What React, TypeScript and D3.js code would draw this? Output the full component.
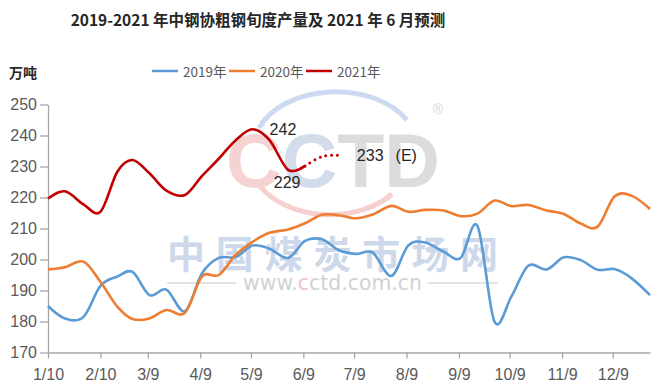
import { useEffect, useRef } from 'react'
import * as d3 from 'd3'

// dekad end dates, laid on one (leap) year so all three years share the x axis
const dekadDates = [
    '2020-01-10', '2020-01-20', '2020-01-31', '2020-02-10', '2020-02-20', '2020-02-29',
    '2020-03-10', '2020-03-20', '2020-03-31', '2020-04-10', '2020-04-20', '2020-04-30',
    '2020-05-10', '2020-05-20', '2020-05-31', '2020-06-10', '2020-06-20', '2020-06-30',
    '2020-07-10', '2020-07-20', '2020-07-31', '2020-08-10', '2020-08-20', '2020-08-31',
    '2020-09-10', '2020-09-20', '2020-09-30', '2020-10-10', '2020-10-20', '2020-10-31',
    '2020-11-10', '2020-11-20', '2020-11-30', '2020-12-10', '2020-12-20', '2020-12-31'
];

const values2019 = [185, 181, 181.5, 191.5, 194.5, 196, 188.5, 190.3, 183.3, 195.5, 200.5, 200.8,
    204.5, 203.5, 200.5, 206, 206.5, 203, 201.8, 202.2, 194.7, 204.5, 205.5, 202.5,
    200.5, 210.8, 180, 188, 198, 196.8, 200.7, 199.8, 196.7, 196.9, 194, 188.5];

const values2020 = [196.8, 197.5, 199.3, 192.8, 184.8, 180.8, 181, 183.7, 182.8, 194.5, 195, 201.5,
    205.7, 208.6, 209.7, 211.7, 214.4, 214.3, 213.3, 214.5, 217.3, 215.4, 216, 215.8,
    214, 214.8, 219, 217.2, 217.6, 215.8, 214.7, 211.6, 210.6, 220.3, 220.6, 216.3];

const values2021 = [219.7, 222, 217.8, 215.4, 228.3, 232.1, 227.8, 222.2, 220.8, 226.9, 232.5, 238.5,
    242, 238.5, 228.9, 230.2];

const forecastDates = ['2020-06-10', '2020-06-20', '2020-06-30'];
const forecast2021 = [230.2, 233.2, 233.6];

const tickDates = ['2020-01-10', '2020-02-10', '2020-03-09', '2020-04-09', '2020-05-09', '2020-06-09',
    '2020-07-09', '2020-08-09', '2020-09-09', '2020-10-09', '2020-11-09', '2020-12-09'];
const tickLabels = ['1/10', '2/10', '3/9', '4/9', '5/9', '6/9', '7/9', '8/9', '9/9', '10/9', '11/9', '12/9'];
const yTicks = [170, 180, 190, 200, 210, 220, 230, 240, 250];

const seriesNames = ['2019年', '2020年', '2021年'];
const seriesColors = ['#5B9BD5', '#ED7D31', '#C00000'];

function App() {
    const d3Container = useRef(null);

    const width = 663;
    const height = 388;

    useEffect(() => {
        const parse = d3.timeParse('%Y-%m-%d');

        const marginLeft = 48;
        const plotRight = 650;
        const plotTop = 104.5;
        const plotBottom = 352.5;

        const svg = d3.select(d3Container.current);
        svg.selectAll('*').remove();

        const x = d3.scaleTime()
                    .domain([parse('2020-01-10'), parse('2020-12-31')])
                    .range([marginLeft, plotRight]);

        const y = d3.scaleLinear()
                    .domain([170, 250])
                    .range([plotBottom, plotTop]);

        // title
        svg.append('text')
           .attr('x', 258)
           .attr('y', 25.5)
           .attr('text-anchor', 'middle')
           .attr('font-family', '"Noto Sans CJK SC", sans-serif')
           .attr('font-weight', 'bold')
           .attr('font-size', 15.5)
           .attr('fill', '#262626')
           .text('2019-2021 年中钢协粗钢旬度产量及 2021 年 6 月预测');

        // unit label
        svg.append('text')
           .attr('x', 9)
           .attr('y', 77.5)
           .attr('font-family', '"Noto Sans CJK SC", sans-serif')
           .attr('font-weight', 'bold')
           .attr('font-size', 14)
           .attr('fill', '#262626')
           .text('万吨');

        // legend
        const legendX = [152, 229, 306];
        const legend = svg.append('g');
        seriesNames.forEach((name, i) => {
            legend.append('line')
                  .attr('x1', legendX[i]).attr('x2', legendX[i] + 26)
                  .attr('y1', 71).attr('y2', 71)
                  .attr('stroke', seriesColors[i])
                  .attr('stroke-width', 2.5);
            legend.append('text')
                  .attr('x', legendX[i] + 31)
                  .attr('y', 76.5)
                  .attr('font-family', '"Noto Sans CJK SC", sans-serif')
                  .attr('font-size', 13.5)
                  .attr('fill', '#595959')
                  .text(name);
        });

        // watermark (CCTD logo + site name)
        const wm = svg.append('g').attr('class', 'watermark');
        wm.append('path')
          .attr('d', 'M 259 128 A 82 56 0 0 1 407 120')
          .attr('fill', 'none')
          .attr('stroke', '#cbdaf0')
          .attr('stroke-width', 5);
        wm.append('path')
          .attr('d', 'M 260 186 A 80 56 0 0 0 392 194')
          .attr('fill', 'none')
          .attr('stroke', '#f6cfcf')
          .attr('stroke-width', 5);
        const logo = wm.append('text')
                       .attr('x', 226)
                       .attr('y', 187)
                       .attr('font-family', '"Liberation Sans", Arial, sans-serif')
                       .attr('font-weight', 'bold')
                       .attr('font-size', 76)
                       .attr('textLength', 214)
                       .attr('lengthAdjust', 'spacingAndGlyphs');
        logo.append('tspan').attr('fill', '#f6d3d3').text('C');
        logo.append('tspan').attr('fill', '#d3dcea').text('C');
        logo.append('tspan').attr('fill', '#dcdcdc').text('TD');
        wm.append('text')
          .attr('x', 438).attr('y', 114)
          .attr('text-anchor', 'middle')
          .attr('font-family', '"Liberation Sans", Arial, sans-serif')
          .attr('font-size', 14)
          .attr('fill', '#d6d6d6')
          .text('®');
        wm.append('text')
          .attr('x', 167)
          .attr('y', 268)
          .attr('font-family', '"Noto Sans CJK SC", sans-serif')
          .attr('font-weight', 'bold')
          .attr('font-size', 38)
          .attr('textLength', 331)
          .attr('lengthAdjust', 'spacing')
          .attr('fill', '#cdd9eb')
          .text('中国煤炭市场网');
        const site = wm.append('text')
                       .attr('x', 243)
                       .attr('y', 290)
                       .attr('font-family', '"DejaVu Sans", sans-serif')
                       .attr('font-size', 22)
                       .attr('textLength', 179)
                       .attr('lengthAdjust', 'spacingAndGlyphs');
        site.append('tspan').attr('fill', '#d2d2d2').text('www.');
        site.append('tspan').attr('fill', '#f2c2c2').text('c');
        site.append('tspan').attr('fill', '#d2d2d2').text('ctd.com.cn');
        wm.append('line').attr('x1', 167).attr('x2', 236).attr('y1', 283).attr('y2', 283)
          .attr('stroke', '#dadada').attr('stroke-width', 1.5);
        wm.append('line').attr('x1', 428).attr('x2', 498).attr('y1', 283).attr('y2', 283)
          .attr('stroke', '#dadada').attr('stroke-width', 1.5);

        // axes
        const xAxis = d3.axisBottom(x)
                        .tickValues(tickDates.map((d) => parse(d)))
                        .tickFormat((d, i) => tickLabels[i])
                        .tickSize(6)
                        .tickSizeOuter(0)
                        .tickPadding(10);

        svg.append('g')
           .attr('transform', `translate(0,${plotBottom})`)
           .call(xAxis)
           .call((g) => g.selectAll('.domain, line').attr('stroke', '#a6a6a6').attr('stroke-width', 1.3))
           .call((g) => g.selectAll('text')
                         .attr('fill', '#595959')
                         .attr('font-size', 16)
                         .attr('font-family', '"Liberation Sans", Arial, sans-serif'));

        const yAxis = d3.axisLeft(y)
                        .tickValues(yTicks)
                        .tickSize(8)
                        .tickSizeOuter(0)
                        .tickPadding(3);

        svg.append('g')
           .attr('transform', `translate(${marginLeft},0)`)
           .call(yAxis)
           .call((g) => g.selectAll('.domain, line').attr('stroke', '#a6a6a6').attr('stroke-width', 1.3))
           .call((g) => g.selectAll('text')
                         .attr('fill', '#595959')
                         .attr('font-size', 16)
                         .attr('font-family', '"Liberation Sans", Arial, sans-serif'));

        // lines
        const line = d3.line<[string, number]>()
                       .x((d) => x(parse(d[0])))
                       .y((d) => y(d[1]))
                       .curve(d3.curveCardinal.tension(0));

        const allSeries = [values2019, values2020, values2021];
        allSeries.forEach((vals, i) => {
            const pts = vals.map((v, j) => [dekadDates[j], v] as [string, number]);
            svg.append('path')
               .datum(pts)
               .attr('fill', 'none')
               .attr('stroke', seriesColors[i])
               .attr('stroke-width', 2.6)
               .attr('stroke-linejoin', 'round')
               .attr('d', line);
        });

        // June 2021 forecast, dotted
        const fpts = forecast2021.map((v, j) => [forecastDates[j], v] as [string, number]);
        svg.append('path')
           .datum(fpts)
           .attr('fill', 'none')
           .attr('stroke', '#C00000')
           .attr('stroke-width', 3)
           .attr('stroke-linecap', 'round')
           .attr('stroke-dasharray', '0 5.8')
           .attr('d', line);

        // data labels
        const labelFont = '"Liberation Sans", Arial, sans-serif';
        const peakIdx = 12;
        const lowIdx = 14;
        svg.append('text')
           .attr('x', x(parse(dekadDates[peakIdx])) + 17)
           .attr('y', y(values2021[peakIdx]) + 6)
           .attr('font-family', labelFont)
           .attr('font-size', 16)
           .attr('fill', '#262626')
           .text(Math.round(values2021[peakIdx]));
        svg.append('text')
           .attr('x', x(parse(dekadDates[lowIdx])) - 1)
           .attr('y', y(values2021[lowIdx]) + 18)
           .attr('text-anchor', 'middle')
           .attr('font-family', labelFont)
           .attr('font-size', 16)
           .attr('fill', '#262626')
           .text(Math.round(values2021[lowIdx]));
        const last = forecast2021.length - 1;
        const fLabel = svg.append('text')
           .attr('x', x(parse(forecastDates[last])) + 18)
           .attr('y', y(forecast2021[last]) + 6)
           .attr('font-family', labelFont)
           .attr('font-size', 16)
           .attr('fill', '#262626');
        fLabel.append('tspan').text(Math.floor(forecast2021[last]));
        fLabel.append('tspan').attr('dx', 12).text('(E)');
    }, []);

    return (
        <svg ref={d3Container}
             width={width}
             height={height}
             style={{ position: 'absolute', left: 0, top: 0, background: '#fff' }} />
    );
}

export default App;
